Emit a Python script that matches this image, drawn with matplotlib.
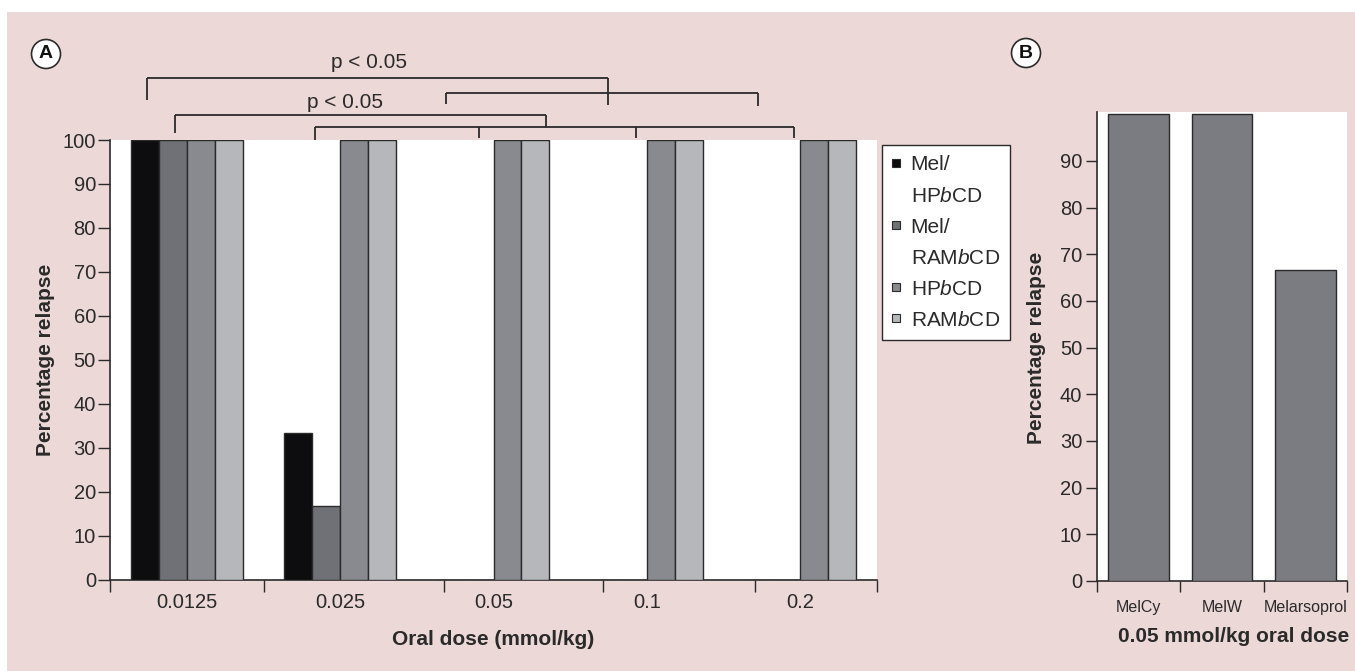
import matplotlib
matplotlib.use("Agg")
import matplotlib.pyplot as plt
from matplotlib.patches import Rectangle, Circle, Patch
import numpy as np

plt.rcParams['font.family'] = ['Liberation Sans', 'DejaVu Sans']
plt.rcParams['mathtext.fontset'] = 'custom'
plt.rcParams['mathtext.rm'] = 'Liberation Sans'
plt.rcParams['mathtext.it'] = 'Liberation Sans:italic'
plt.rcParams['mathtext.bf'] = 'Liberation Sans:bold'

# ---------------- data ----------------
doses = ["0.0125", "0.025", "0.05", "0.1", "0.2"]
series_labels = ["Mel/HP$\\mathit{b}$CD", "Mel/RAM$\\mathit{b}$CD",
                 "HP$\\mathit{b}$CD", "RAM$\\mathit{b}$CD"]
mel_hpbcd = [100, 33.3, 0, 0, 0]
mel_rambcd = [100, 16.7, 0, 0, 0]
hpbcd = [100, 100, 100, 100, 100]
rambcd = [100, 100, 100, 100, 100]

b_categories = ["MelCy", "MelW", "Melarsoprol"]
b_values = [100, 100, 66.7]

# significance annotations (panel A, data units)
sig_texts = ["p < 0.05", "p < 0.05"]
sig_text_x = [1.688, 1.532]
sig_text_y = [116.3, 107.3]
# each bracket: horizontal y, list of (x, drop-to-y)
brackets = [
    (114.0, [(0.238, 109.1), (3.244, 107.9)]),
    (110.6, [(2.19, 108.1), (4.224, 107.7)]),
    (105.6, [(0.424, 101.7), (2.841, 103.0)]),
    (102.9, [(1.339, 100.0), (2.404, 100.5), (3.429, 100.5), (4.457, 100.5)]),
]
tick_bounds_a = [0, 1.004, 2.177, 3.214, 4.205, 5]

# ---------------- style ----------------
PINK = "#ebd8d7"
INK = "#2a2a2a"
colors_a = ["#0d0d10", "#6f7176", "#898a8f", "#b6b7bb"]
color_b = "#7b7c81"

W, H = 1355, 671
fig = plt.figure(figsize=(W / 100, H / 100), dpi=100)
fig.patch.set_facecolor("white")
fig.add_artist(Rectangle((7 / W, 0), 1 - 7 / W, (H - 12) / H,
                         transform=fig.transFigure, fc=PINK, ec="none", zorder=-10))

# ---------------- panel A ----------------
axA = fig.add_axes([110 / W, (H - 579.5) / H, 767 / W, 439.5 / H])
axA.set_facecolor("white")
n = len(doses)
centers = np.arange(n) + 0.5
bw = 0.1825
all_series = [mel_hpbcd, mel_rambcd, hpbcd, rambcd]
for j, (vals, col) in enumerate(zip(all_series, colors_a)):
    axA.bar(centers + (j - 1.5) * bw, vals, width=bw, color=col,
            edgecolor=INK, linewidth=1.0, zorder=3)

axA.set_xlim(0, n)
axA.set_ylim(0, 100)
axA.set_yticks(np.arange(0, 101, 10))
axA.set_xticks(centers)
axA.set_xticklabels(doses)
axA.set_xticks(tick_bounds_a, minor=True)
axA.tick_params(axis="x", which="major", length=0, pad=10, labelsize=14.5, colors=INK)
axA.tick_params(axis="x", which="minor", length=8.6, width=1.0, direction="out", color=INK)
axA.tick_params(axis="y", which="major", length=8.9, width=1.0, pad=1.2, labelsize=14.5, colors=INK)
for s in ["top", "right"]:
    axA.spines[s].set_visible(False)
for s in ["left", "bottom"]:
    axA.spines[s].set_color(INK)
    axA.spines[s].set_linewidth(1.2)

axA.set_ylabel("Percentage relapse", fontsize=15, fontweight="bold", color=INK, va="center")
axA.yaxis.set_label_coords(-0.0847, 0.5)
axA.set_xlabel("Oral dose (mmol/kg)", fontsize=15, fontweight="bold", color=INK, va="center")
axA.xaxis.set_label_coords(0.5, -0.137)

for yh, drops in brackets:
    xs = [d[0] for d in drops]
    axA.plot([min(xs), max(xs)], [yh, yh], color=INK, lw=1.3, clip_on=False,
             solid_capstyle="butt")
    for x, yd in drops:
        axA.plot([x, x], [yh, yd], color=INK, lw=1.3, clip_on=False, solid_capstyle="butt")
for t, x, y in zip(sig_texts, sig_text_x, sig_text_y):
    axA.text(x, y, t, ha="center", va="baseline", fontsize=15, color=INK, clip_on=False)

# legend (labels broken across lines, as in the original)
blank = Rectangle((0, 0), 1, 1, fc="none", ec="none")
leg_handles = []
leg_labels = []
for lab, col in zip(series_labels, colors_a):
    parts = lab.split("/")
    p = Patch(facecolor=col, edgecolor=INK, linewidth=0.8)
    if len(parts) == 2:
        leg_handles += [p, blank]
        leg_labels += [parts[0] + "/", parts[1]]
    else:
        leg_handles.append(p)
        leg_labels.append(lab)
leg = fig.legend(leg_handles, leg_labels, loc="upper left",
                 bbox_to_anchor=(882 / W, 1 - 145 / H), bbox_transform=fig.transFigure,
                 borderaxespad=0, fontsize=15, frameon=True, fancybox=False,
                 edgecolor=INK, facecolor="white", framealpha=1,
                 handlelength=0.38, handleheight=0.2, handletextpad=0.5,
                 labelspacing=0.58, borderpad=0.5)
leg.get_frame().set_linewidth(1.0)
for t in leg.get_texts():
    t.set_color(INK)

# ---------------- panel B ----------------
axB = fig.add_axes([1097 / W, (H - 581) / H, 250 / W, 468.7 / H])
axB.set_facecolor("white")
xb = np.arange(len(b_categories)) + 0.5
axB.bar(xb, b_values, width=0.73, color=color_b, edgecolor=INK, linewidth=1.0, zorder=3)
axB.set_xlim(0, len(b_categories))
axB.set_ylim(0, 100.4)
axB.set_yticks(np.arange(0, 91, 10))
axB.set_xticks(xb)
axB.set_xticklabels(b_categories)
axB.set_xticks(np.arange(len(b_categories) + 1), minor=True)
axB.tick_params(axis="x", which="major", length=0, pad=13.5, labelsize=11.5, colors=INK)
axB.tick_params(axis="x", which="minor", length=8, width=1.0, direction="out", color=INK)
axB.tick_params(axis="y", which="major", length=7.7, width=1.0, pad=3, labelsize=14.5, colors=INK)
for s in ["top", "right"]:
    axB.spines[s].set_visible(False)
for s in ["left", "bottom"]:
    axB.spines[s].set_color(INK)
    axB.spines[s].set_linewidth(1.2)
axB.set_ylabel("Percentage relapse", fontsize=15, fontweight="bold", color=INK, va="center")
axB.yaxis.set_label_coords(-0.241, 0.498)
axB.set_xlabel("0.05 mmol/kg oral dose", fontsize=15, fontweight="bold", color=INK, va="center")
axB.xaxis.set_label_coords(0.545, -0.118)

# ---------------- panel letters ----------------
for letter, cx, cy in [("A", 46, 54), ("B", 1026, 53)]:
    fig.add_artist(Circle((cx / 100, (H - cy) / 100), 0.145, transform=fig.dpi_scale_trans,
                          fc="white", ec=INK, lw=1.2, zorder=5))
    fig.text(cx / W, (H - cy) / H, letter, ha="center", va="center", fontsize=14,
             fontweight="bold", color="#111", zorder=6)

fig.savefig("out.png", dpi=100, facecolor=fig.get_facecolor())
